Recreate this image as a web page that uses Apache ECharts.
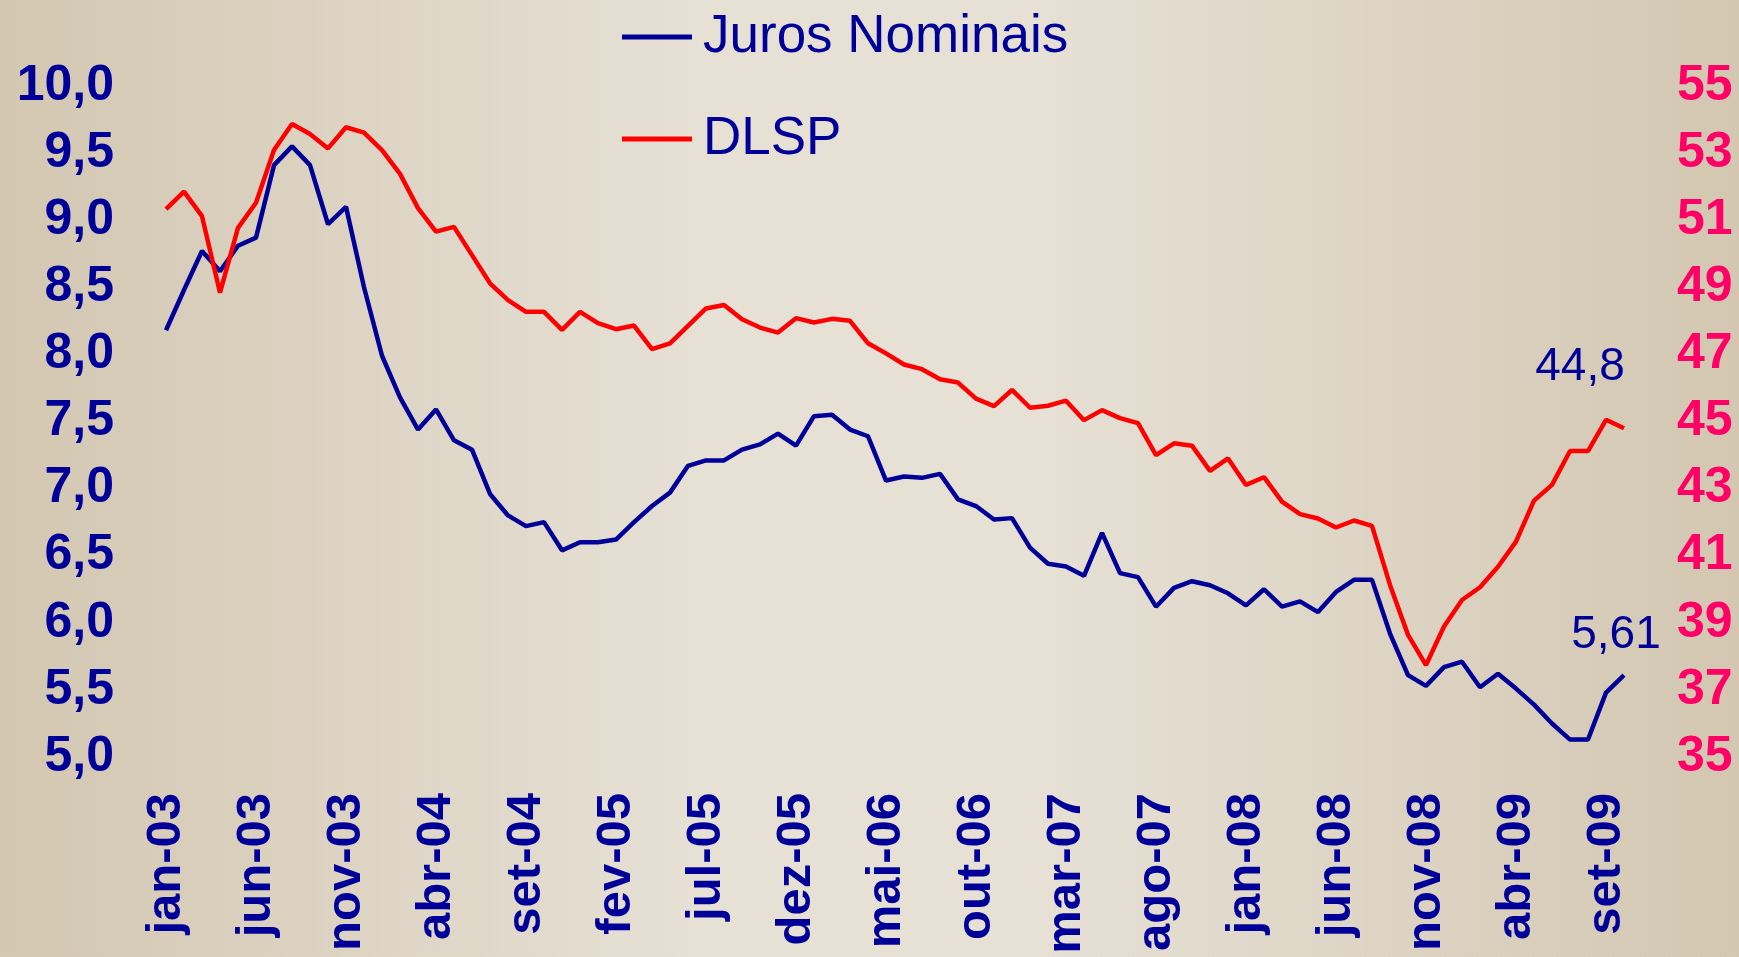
<!DOCTYPE html>
<html>
<head>
<meta charset="utf-8">
<script src="https://cdn.jsdelivr.net/npm/echarts@6/dist/echarts.min.js"></script>
<style>
  html, body { margin: 0; padding: 0; }
  #main { width: 1739px; height: 957px; }
</style>
</head>
<body>
<div id="main"></div>
<script>
// monthly, jan-03 .. out-09
var monthNames = ["jan", "fev", "mar", "abr", "mai", "jun", "jul", "ago", "set", "out", "nov", "dez"];
var startYear = 3;
var monthCount = 82;

var juros = [8.18, 8.48, 8.77, 8.62, 8.81, 8.87, 9.41, 9.55, 9.41, 8.97, 9.10, 8.50,
	7.99, 7.68, 7.44, 7.59, 7.36, 7.29, 6.96, 6.80, 6.72, 6.75, 6.54, 6.60,
	6.60, 6.62, 6.75, 6.87, 6.97, 7.17, 7.21, 7.21, 7.29, 7.33, 7.41, 7.32,
	7.54, 7.55, 7.44, 7.39, 7.06, 7.09, 7.08, 7.11, 6.92, 6.87, 6.77, 6.78,
	6.56, 6.44, 6.42, 6.35, 6.67, 6.37, 6.34, 6.12, 6.26, 6.31, 6.28, 6.22,
	6.13, 6.25, 6.12, 6.16, 6.08, 6.23, 6.32, 6.32, 5.92, 5.61, 5.53, 5.67,
	5.71, 5.52, 5.62, 5.51, 5.39, 5.25, 5.13, 5.13, 5.48, 5.61];

var dlsp = [51.33, 51.85, 51.12, 48.84, 50.77, 51.52, 53.09, 53.87, 53.57, 53.14, 53.77, 53.61,
	53.09, 52.38, 51.36, 50.66, 50.80, 49.96, 49.12, 48.62, 48.27, 48.27, 47.73, 48.27,
	47.93, 47.75, 47.86, 47.16, 47.33, 47.85, 48.37, 48.47, 48.05, 47.80, 47.65, 48.08,
	47.95, 48.06, 48.00, 47.33, 47.03, 46.70, 46.56, 46.26, 46.16, 45.68, 45.46, 45.94,
	45.41, 45.47, 45.62, 45.04, 45.34, 45.10, 44.95, 44.00, 44.35, 44.28, 43.53, 43.90,
	43.11, 43.34, 42.61, 42.24, 42.11, 41.84, 42.05, 41.89, 40.13, 38.64, 37.74, 38.89,
	39.68, 40.06, 40.67, 41.42, 42.64, 43.11, 44.12, 44.12, 45.05, 44.8];

var categories = [];
for (var i = 0; i < monthCount; i++) {
	var yy = startYear + Math.floor(i / 12);
	categories.push(monthNames[i % 12] + "-" + (yy < 10 ? "0" + yy : yy));
}

var blue = "#000099";
var red = "#ff0000";
var pink = "#ff0066";
var font = "'Liberation Sans', Arial, sans-serif";

function comma(v) {
	return String(v).replace(".", ",");
}

// only the last point gets a value label
function withLastLabel(arr, offset) {
	var out = arr.slice(0, arr.length - 1);
	out.push({
		value: arr[arr.length - 1],
		label: {
			show: true,
			position: "top",
			distance: 5,
			offset: offset,
			color: blue,
			fontFamily: font,
			fontSize: 46,
			lineHeight: 46,
			formatter: function (p) { return comma(p.value); }
		}
	});
	return out;
}

var myChart = echarts.init(document.getElementById("main"));

var option = {
	animation: false,
	backgroundColor: new echarts.graphic.LinearGradient(0, 0, 1, 0, [
		{ offset: 0, color: "#d3c7b1" },
		{ offset: 0.4, color: "#e6e0d5" },
		{ offset: 0.6, color: "#e6e0d5" },
		{ offset: 1, color: "#d3c7b1" }
	]),
	grid: { left: 166, right: 115, top: 86, bottom: 200, containLabel: false },
	legend: {
		orient: "vertical",
		left: 617,
		top: 2,
		itemWidth: 70,
		itemHeight: 5,
		itemGap: 42,
		icon: "rect",
		textStyle: { color: blue, fontFamily: font, fontSize: 53, lineHeight: 60, padding: [0, 0, 0, 6] },
		data: ["Juros Nominais", "DLSP"]
	},
	xAxis: {
		type: "category",
		boundaryGap: false,
		data: categories,
		axisLine: { show: false },
		axisTick: { show: false },
		axisLabel: {
			interval: 4,
			rotate: 90,
			margin: 36,
			color: blue,
			fontFamily: font,
			fontWeight: "bold",
			fontSize: 49
		}
	},
	yAxis: [{
		type: "value",
		min: 5,
		max: 10,
		interval: 0.5,
		splitLine: { show: false },
		axisLine: { show: false },
		axisTick: { show: false },
		axisLabel: {
			margin: 52,
			color: blue,
			fontFamily: font,
			fontWeight: "bold",
			fontSize: 50,
			formatter: function (v) { return v.toFixed(1).replace(".", ","); }
		}
	}, {
		type: "value",
		position: "right",
		min: 35,
		max: 55,
		interval: 1,
		splitLine: { show: false },
		axisLine: { show: false },
		axisTick: { show: false },
		axisLabel: {
			margin: 53,
			color: pink,
			fontFamily: font,
			fontWeight: "bold",
			fontSize: 50,
			formatter: function (v) { return (Math.round(v) % 2 === 1) ? String(Math.round(v)) : ""; }
		}
	}],
	series: [{
		name: "Juros Nominais",
		type: "line",
		yAxisIndex: 0,
		symbol: "circle",
		symbolSize: 0,
		showSymbol: true,
		color: blue,
		lineStyle: { color: blue, width: 4.5 },
		data: withLastLabel(juros, [-8, -12])
	}, {
		name: "DLSP",
		type: "line",
		yAxisIndex: 1,
		symbol: "circle",
		symbolSize: 0,
		showSymbol: true,
		color: red,
		lineStyle: { color: red, width: 4.5 },
		data: withLastLabel(dlsp, [-44, -33])
	}]
};

myChart.setOption(option);
</script>
</body>
</html>
